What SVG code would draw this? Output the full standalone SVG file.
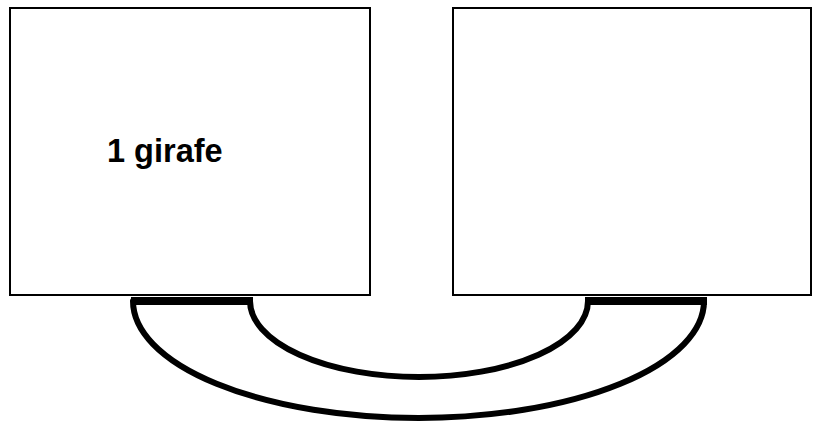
<svg xmlns="http://www.w3.org/2000/svg" width="819" height="425" viewBox="0 0 819 425">
<style>
.box{fill:#fff;stroke:#000;stroke-width:2}
.lbl{font-family:"Liberation Sans",Arial,sans-serif;font-weight:bold;font-size:32.5px;fill:#000}
.band{fill:none;stroke:#000;stroke-width:6;stroke-linejoin:round}
.bar{fill:#000}
</style>
<rect width="819" height="425" fill="#fff"/>
<g id="node-left">
<rect class="box" x="10" y="8" width="360" height="287"/>
<text class="lbl" x="107" y="162">1 girafe</text>
</g>
<g id="node-right">
<rect class="box" x="453" y="8" width="358" height="287"/>
</g>
<g id="connectors">
<path class="band" d="M133,301 H250 A169,76 0 0 0 588,301 H704 A285.5,117 0 0 1 133,301 Z"/>
<rect class="bar" x="131" y="297" width="122" height="8"/>
<rect class="bar" x="585" y="297" width="122" height="8"/>
</g>
</svg>
